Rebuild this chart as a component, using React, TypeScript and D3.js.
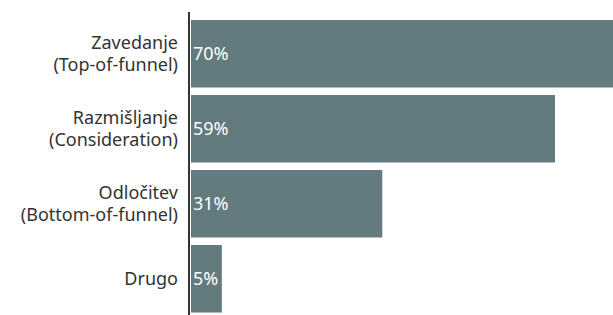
import React from 'react';
import * as d3 from 'd3';

// data
const categories = [
  ['Zavedanje', '(Top-of-funnel)'],
  ['Razmišljanje', '(Consideration)'],
  ['Odločitev', '(Bottom-of-funnel)'],
  ['Drugo'],
];
const values = [70, 59, 31, 5];

const width = 613;
const height = 315;
const axisX = 189;
const barColor = '#637b7e';
const textColor = '#333333';
const fontFamily = '"Noto Sans", sans-serif';
const fontSize = 18;
const lineH = 22;

export default function App() {
  const keys = categories.map(c => c.join(' '));

  const y = d3
    .scaleBand<string>()
    .domain(keys)
    .range([20, 312.5])
    .paddingInner(0.1)
    .paddingOuter(0);

  const x = d3.scaleLinear().domain([0, 100]).range([axisX + 2, axisX + 2 + 617]);

  return (
    <svg
      width={width}
      height={height}
      style={{ position: 'absolute', left: 0, top: 0 }}
      fontFamily={fontFamily}
    >
      {values.map((v, i) => {
        const y0 = y(keys[i])!;
        const bw = y.bandwidth();
        const lines = categories[i];
        return (
          <g key={keys[i]}>
            <rect x={x(0)} y={y0} width={x(v) - x(0)} height={bw} fill={barColor} />
            <text
              x={x(0) + 2}
              y={y0 + bw / 2}
              dy="0.35em"
              fill="#ffffff"
              fontSize={fontSize}
            >
              {v}%
            </text>
            {lines.map((line, j) => (
              <text
                key={j}
                x={axisX - 11}
                y={y0 + bw / 2 + (j - (lines.length - 1) / 2) * lineH}
                dy="0.35em"
                fill={textColor}
                fontSize={fontSize}
                textAnchor="end"
              >
                {line}
              </text>
            ))}
          </g>
        );
      })}
      <line x1={axisX} x2={axisX} y1={12} y2={height} stroke={textColor} strokeWidth={2} />
    </svg>
  );
}
